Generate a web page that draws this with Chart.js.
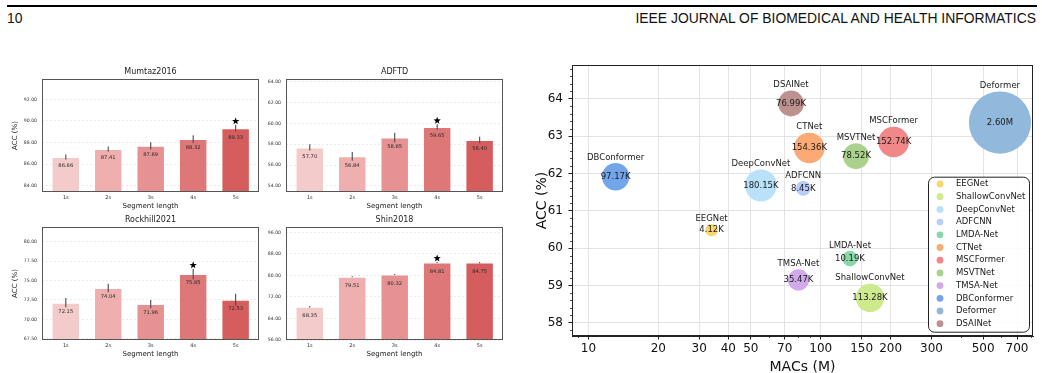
<!DOCTYPE html>
<html><head><meta charset="utf-8">
<script src="https://cdn.jsdelivr.net/npm/chart.js@4.4.1/dist/chart.umd.min.js"></script>
<style>
html,body{margin:0;padding:0;background:#fff;width:1042px;height:373px;overflow:hidden;position:relative;}
canvas{position:absolute;}
#rule{position:absolute;left:7px;top:5px;width:1030px;height:2px;background:#000;}
.hdr{position:absolute;top:10px;font-family:"Liberation Sans",Arial,sans-serif;font-size:13.9px;line-height:16px;color:#111;white-space:nowrap;}
</style></head><body>
<div id="rule"></div>
<div class="hdr" style="left:7px">10</div>
<div class="hdr" style="right:6px">IEEE JOURNAL OF BIOMEDICAL AND HEALTH INFORMATICS</div>
<canvas id="c1" width="262" height="153" style="left:0px;top:58px"></canvas>
<canvas id="c2" width="246" height="153" style="left:262px;top:58px"></canvas>
<canvas id="c3" width="262" height="153" style="left:0px;top:206px"></canvas>
<canvas id="c4" width="246" height="153" style="left:262px;top:206px"></canvas>
<canvas id="c5" width="512" height="322" style="left:530px;top:58px"></canvas>
<script>
// ---------- data ----------
const segLabels = ['1s','2s','3s','4s','5s'];
const mumtazAcc = [86.66, 87.41, 87.69, 88.32, 89.33];
const mumtazErr = [0.23, 0.23, 0.34, 0.36, 0.31];
const mumtazTicks = [84, 86, 88, 90, 92];
const adftdAcc = [57.70, 56.84, 58.65, 59.65, 58.40];
const adftdErr = [0.31, 0.42, 0.45, 0.27, 0.31];
const adftdTicks = [54, 56, 58, 60, 62, 64];
const rockAcc = [72.15, 74.04, 71.96, 75.85, 72.53];
const rockErr = [0.61, 0.54, 0.52, 0.67, 0.78];
const rockTicks = [67.5, 70, 72.5, 75, 77.5, 80];
const shinAcc = [68.35, 79.51, 80.32, 84.81, 84.75];
const shinErr = [0.3, 0.2, 0.2, 0.2, 0.2];
const shinTicks = [56, 64, 72, 80, 88, 96];

const models = ['EEGNet','ShallowConvNet','DeepConvNet','ADFCNN','LMDA-Net','CTNet','MSCFormer','MSVTNet','TMSA-Net','DBConformer','Deformer','DSAINet'];
const macs   = [33.9, 163, 55.3, 84.1, 133.6, 89.3, 206, 141.9, 80.2, 13.1, 591, 74.5];
const accs   = [60.48, 58.67, 61.68, 61.60, 59.72, 62.68, 62.84, 62.46, 59.15, 61.91, 63.36, 63.87];
const paramsK = [4.12, 113.28, 180.15, 8.45, 10.19, 154.36, 152.74, 78.52, 35.47, 97.17, 2600, 76.99];
const paramLabels = ['4.12K','113.28K','180.15K','8.45K','10.19K','154.36K','152.74K','78.52K','35.47K','97.17K','2.60M','76.99K'];
const macTicks = [10, 20, 30, 40, 50, 70, 100, 150, 200, 300, 500, 700];
const accTicks = [58, 59, 60, 61, 62, 63, 64];

// ---------- styles ----------
const FONT = "'DejaVu Sans', sans-serif";
const barColors = ['#f4cbcb', '#efafaf', '#e69292', '#de7878', '#d55d5d'];
const bubbleColors = ['#fad76e','#cdeb8c','#b9e1fa','#b9cdfa','#8cd7aa','#fcaa73','#f28787','#aad28c','#d2aaeb','#73a5eb','#91b9dc','#be9191'];

function drawStar(ctx, cx, cy, R) {
  const r = R * 0.42;
  ctx.beginPath();
  for (let k = 0; k < 10; k++) {
    const a = -Math.PI / 2 + k * Math.PI / 5;
    const rad = (k % 2) ? r : R;
    ctx.lineTo(cx + rad * Math.cos(a), cy + rad * Math.sin(a));
  }
  ctx.closePath();
  ctx.fill();
}

const framePlugin = {
  id: 'frame',
  afterDraw(chart, args, opts) {
    const a = chart.chartArea, ctx = chart.ctx;
    ctx.save();
    ctx.strokeStyle = opts.color || '#555';
    ctx.lineWidth = opts.width || 1;
    ctx.strokeRect(Math.round(a.left) + 0.5, Math.round(a.top) + 0.5, Math.round(a.right - a.left) - 1, Math.round(a.bottom - a.top) - 1);
    ctx.restore();
  }
};

const errPlugin = {
  id: 'err',
  afterDatasetsDraw(chart) {
    const ds = chart.data.datasets[0];
    const xs = chart.scales.x, ys = chart.scales.y, ctx = chart.ctx;
    ctx.save();
    ds.data.forEach((p, i) => {
      const x = xs.getPixelForValue(p.x);
      const yTop = ys.getPixelForValue(p.y);
      const y0 = ys.getPixelForValue(p.y - ds.errs[i]);
      const y1 = ys.getPixelForValue(p.y + ds.errs[i]);
      ctx.strokeStyle = '#4a4a4a';
      ctx.lineWidth = 1.1;
      ctx.beginPath(); ctx.moveTo(x, y0); ctx.lineTo(x, y1); ctx.stroke();
      ctx.fillStyle = '#2a2a2a';
      ctx.font = '5.2px ' + FONT;
      ctx.textAlign = 'center'; ctx.textBaseline = 'middle';
      ctx.fillText(p.y.toFixed(2), x, yTop + 9);
      if (i === ds.best) {
        ctx.fillStyle = '#000';
        drawStar(ctx, x, Math.min(y1, yTop) - 3.6, 3.8);
      }
    });
    ctx.restore();
  }
};

function barChart(id, title, acc, err, best, ticks, yMin, yMax, yTitle, yWidth, padRight) {
  new Chart(document.getElementById(id), {
    type: 'bar',
    data: {
      datasets: [{
        data: acc.map((v, i) => ({ x: i, y: v })),
        backgroundColor: barColors,
        borderColor: 'rgba(255,255,255,0.7)',
        borderWidth: 1,
        borderSkipped: 'start',
        barPercentage: 0.67,
        categoryPercentage: 1,
        errs: err,
        best: best
      }]
    },
    options: {
      responsive: false, animation: false, events: [],
      layout: { autoPadding: false, padding: { top: 0, right: padRight, bottom: 0, left: 0 } },
      plugins: {
        legend: { display: false }, tooltip: { enabled: false },
        title: { display: true, text: title, fullSize: false, color: '#222', font: { family: FONT, size: 8, weight: 'normal' }, padding: { top: 9.5, bottom: 1.9 } },
        frame: { color: '#555', width: 1 }
      },
      scales: {
        x: {
          type: 'linear', min: -0.56, max: 4.55, offset: false, bounds: 'data',
          afterBuildTicks: s => { s.ticks = segLabels.map((_, i) => ({ value: i })); },
          ticks: { callback: v => segLabels[v], font: { family: FONT, size: 5 }, color: '#333', padding: 3, maxRotation: 0, autoSkip: false },
          grid: { display: false, drawTicks: false, offset: false },
          border: { display: false },
          title: { display: true, text: 'Segment length', color: '#222', font: { family: FONT, size: 7 }, padding: { top: 0, bottom: 0.8 } },
          afterFit: s => { s.height = 19; }
        },
        y: {
          min: yMin, max: yMax, bounds: 'data',
          afterBuildTicks: s => { s.ticks = ticks.map(v => ({ value: v })); },
          ticks: { callback: v => Number(v).toFixed(2), font: { family: FONT, size: 4.6 }, color: '#333', padding: 5 },
          grid: { color: '#e3e3e3', lineWidth: 0.7, drawTicks: false },
          border: { display: false, dash: [2, 2] },
          title: { display: !!yTitle, text: 'ACC (%)', color: '#222', font: { family: FONT, size: 7 }, padding: { top: 10.8, bottom: 0 } },
          afterFit: s => { s.width = yWidth; s.paddingTop = 0; s.paddingBottom = 0; }
        }
      }
    },
    plugins: [framePlugin, errPlugin]
  });
}

barChart('c1', 'Mumtaz2016', mumtazAcc, mumtazErr, 4, mumtazTicks, 83.42, 93.88, true, 42, 3);
barChart('c2', 'ADFTD', adftdAcc, adftdErr, 3, adftdTicks, 53.42, 64.26, false, 24, 5);
barChart('c3', 'Rockhill2021', rockAcc, rockErr, 3, rockTicks, 67.33, 81.91, true, 42, 3);
barChart('c4', 'Shin2018', shinAcc, shinErr, 3, shinTicks, 56, 97.98, false, 24, 5);

// ---------- bubble chart ----------
const minorPlugin = {
  id: 'minor',
  afterDraw(chart) {
    const ctx = chart.ctx, xs = chart.scales.x, ys = chart.scales.y, a = chart.chartArea;
    ctx.save();
    ctx.strokeStyle = '#222'; ctx.lineWidth = 0.8;
    const xm = [9, 60, 80, 90, 400, 600, 800];
    xm.forEach(v => {
      const x = Math.round(xs.getPixelForValue(v)) + 0.5;
      ctx.beginPath(); ctx.moveTo(x, a.bottom); ctx.lineTo(x, a.bottom + 2); ctx.stroke();
    });
    for (let k = 578; k <= 648; k += 2) {
      if (k % 10 === 0) continue;
      const y = Math.round(ys.getPixelForValue(k / 10)) + 0.5;
      if (y < a.top || y > a.bottom) continue;
      ctx.beginPath(); ctx.moveTo(a.left, y); ctx.lineTo(a.left - 2, y); ctx.stroke();
    }
    ctx.restore();
  }
};

const bubbleLabelPlugin = {
  id: 'blabels',
  afterDatasetsDraw(chart) {
    const ctx = chart.ctx;
    ctx.save();
    ctx.font = '8.5px ' + FONT;
    ctx.fillStyle = '#1a1a1a';
    ctx.textAlign = 'center'; ctx.textBaseline = 'middle';
    chart.data.datasets.forEach((ds, i) => {
      const el = chart.getDatasetMeta(i).data[0];
      const r = el.options.radius;
      ctx.fillText(ds.label, el.x, el.y - r - 5.5);
      ctx.fillText(ds.valueLabel, el.x, el.y);
    });
    ctx.restore();
  }
};

const legendPlugin = {
  id: 'boxlegend',
  afterDraw(chart) {
    const ctx = chart.ctx, a = chart.chartArea;
    const w = 101, h = 155;
    const x0 = a.right - 4 - w, y0 = a.bottom - 4.3 - h;
    ctx.save();
    ctx.beginPath();
    ctx.roundRect(x0 + 0.5, y0 + 0.5, w, h, 6);
    ctx.fillStyle = 'rgba(255,255,255,0.85)';
    ctx.fill();
    ctx.strokeStyle = '#222'; ctx.lineWidth = 1;
    ctx.stroke();
    ctx.font = '8.5px ' + FONT;
    ctx.textAlign = 'left'; ctx.textBaseline = 'middle';
    chart.data.datasets.forEach((ds, i) => {
      const y = y0 + 7.3 + i * 12.7;
      ctx.fillStyle = ds.backgroundColor;
      ctx.beginPath(); ctx.arc(x0 + 12, y, 3.4, 0, Math.PI * 2); ctx.fill();
      ctx.fillStyle = '#1a1a1a';
      ctx.fillText(ds.label, x0 + 28, y);
    });
    ctx.restore();
  }
};

new Chart(document.getElementById('c5'), {
  type: 'bubble',
  data: {
    datasets: models.map((m, i) => ({
      label: m,
      data: [{ x: macs[i], y: accs[i], r: 4.35 * Math.pow(paramsK[i], 0.25) }],
      backgroundColor: bubbleColors[i],
      borderWidth: 0,
      valueLabel: paramLabels[i],
      clip: false
    }))
  },
  options: {
    responsive: false, animation: false, events: [],
    layout: { autoPadding: false, padding: { top: 7, right: 9, bottom: 0, left: 0 } },
    plugins: { legend: { display: false }, tooltip: { enabled: false }, frame: { color: '#222', width: 1 } },
    scales: {
      x: {
        type: 'logarithmic', min: 8.5, max: 820, bounds: 'data',
        afterBuildTicks: s => { s.ticks = macTicks.map(v => ({ value: v })); },
        ticks: { callback: v => String(v), font: { family: FONT, size: 12 }, color: '#111', padding: 2.5, maxRotation: 0, autoSkip: false },
        grid: { color: '#e3e3e3', lineWidth: 1, tickColor: '#222', tickLength: 3.5, tickWidth: 1 },
        border: { display: true, color: '#222', width: 1 },
        title: { display: true, text: 'MACs (M)', color: '#111', font: { family: FONT, size: 14 }, padding: { top: 0, bottom: 4.6 } },
        afterFit: s => { s.height = 44; }
      },
      y: {
        min: 57.65, max: 64.9, bounds: 'data',
        afterBuildTicks: s => { s.ticks = accTicks.map(v => ({ value: v })); },
        ticks: { callback: v => String(v), font: { family: FONT, size: 12 }, color: '#111', padding: 5.5 },
        grid: { color: '#e3e3e3', lineWidth: 1, tickColor: '#222', tickLength: 3.5, tickWidth: 1 },
        border: { display: true, color: '#222', width: 1 },
        title: { display: true, text: 'ACC (%)', color: '#111', font: { family: FONT, size: 14 }, padding: { top: 3.6, bottom: 0 } },
        afterFit: s => { s.width = 42; s.paddingTop = 0; s.paddingBottom = 0; }
      }
    }
  },
  plugins: [framePlugin, minorPlugin, bubbleLabelPlugin, legendPlugin]
});
</script>
</body></html>
